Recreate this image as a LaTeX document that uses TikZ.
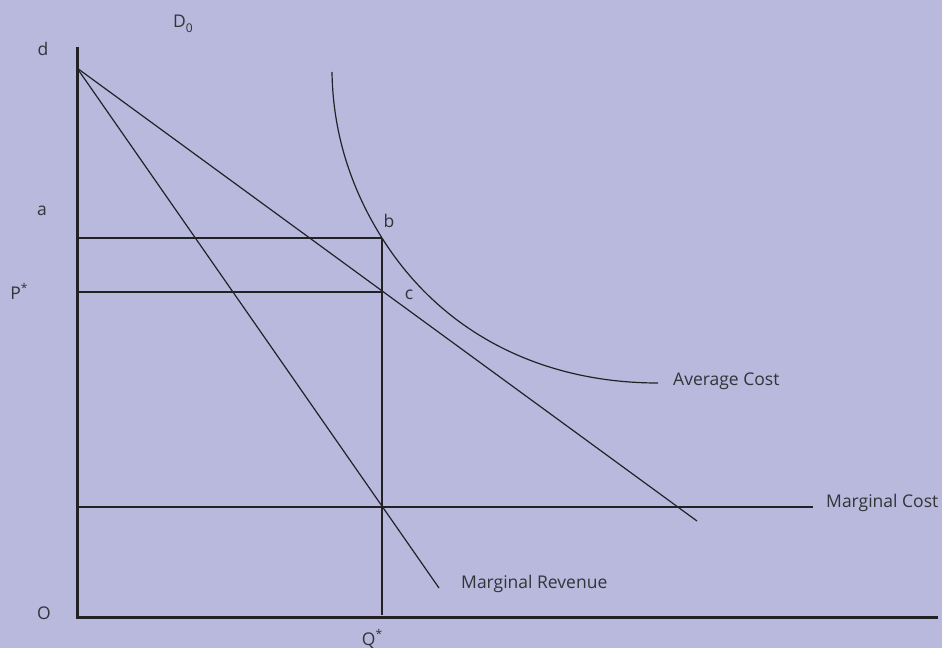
\documentclass[tikz,border=0pt]{standalone}
\usepackage{fontspec}
\setmainfont{Open Sans}
\usepackage{tikz}
\usetikzlibrary{positioning,calc}
\definecolor{lavender}{HTML}{B8B9DC}
\definecolor{ink}{HTML}{222226}
\definecolor{labelgrey}{HTML}{333338}
\tikzset{
  axisline/.style={ink, line width=3pt, line cap=rect},
  econline/.style={ink, line width=1.2pt},
  guideline/.style={econline},
  elabel/.style={text=labelgrey, font=\fontsize{17.5}{20}\selectfont, inner sep=0pt},
}
\newcommand{\smallidx}[1]{{\fontsize{12}{14}\selectfont #1}}

\begin{document}
\begin{tikzpicture}[x=1pt, y=-1pt]
  \fill[lavender] (0,0) rectangle (942,648);
  \useasboundingbox (0,0) rectangle (942,648);
  % points on the axes and curves
  \coordinate (origin) at (77,617);
  \coordinate (ytop) at (77,48);
  \coordinate (xend) at (936,617);
  \coordinate (d) at (77,68);
  \coordinate (demandend) at (697,521);
  \coordinate (mrend) at (439,588);
  \coordinate (b) at (382,238);
  \coordinate (c) at (382,292);
  \coordinate (qstar) at (382,615);
  \coordinate (mcleft) at (77,507);
  \coordinate (mcright) at (813,507);
  \coordinate (aleft) at (77,238);
  \coordinate (pleft) at (77,292);
  \coordinate (acstart) at (332,72);
  \coordinate (acend) at (658,383);
  % labels
  \node[elabel] (dlbl) at (43,49) {d};
  \node[elabel] (d0lbl) at (183,24) {D\raisebox{-0.55ex}{\smallidx{0}}};
  \node[elabel] (albl) at (42,211) {a};
  \node[elabel] (plbl) at (19,291) {P\raisebox{0.75ex}{\smallidx{*}}};
  \node[elabel] (olbl) at (44,613) {O};
  \node[elabel] (qlbl) at (372,639) {Q\raisebox{0.75ex}{\smallidx{*}}};
  \node[elabel] (blbl) at (389,221) {b};
  \node[elabel] (clbl) at (409,295) {c};
  \node[elabel, anchor=west] (aclbl) at (673,381) {Average Cost};
  \node[elabel, anchor=west] (mclbl) at (826,503) {Marginal Cost};
  \node[elabel, anchor=west] (mrlbl) at (461,584) {Marginal Revenue};
  % axes
  \draw[axisline] (ytop) -- (origin) -- (xend);
  % demand, marginal revenue, marginal cost
  \draw[econline] (d) -- (demandend);
  \draw[econline] (d) -- (mrend);
  \draw[econline] (mcleft) -- (mcright);
  % price and quantity guides
  \draw[guideline] (aleft) -- (b);
  \draw[guideline] (pleft) -- (c);
  \draw[guideline] (b) -- (qstar);
  % average cost
  \draw[econline] (acstart) .. controls (333,140) and (355,195) .. (b)
    .. controls (443,335) and (544,383) .. (acend);
\end{tikzpicture}
\end{document}
